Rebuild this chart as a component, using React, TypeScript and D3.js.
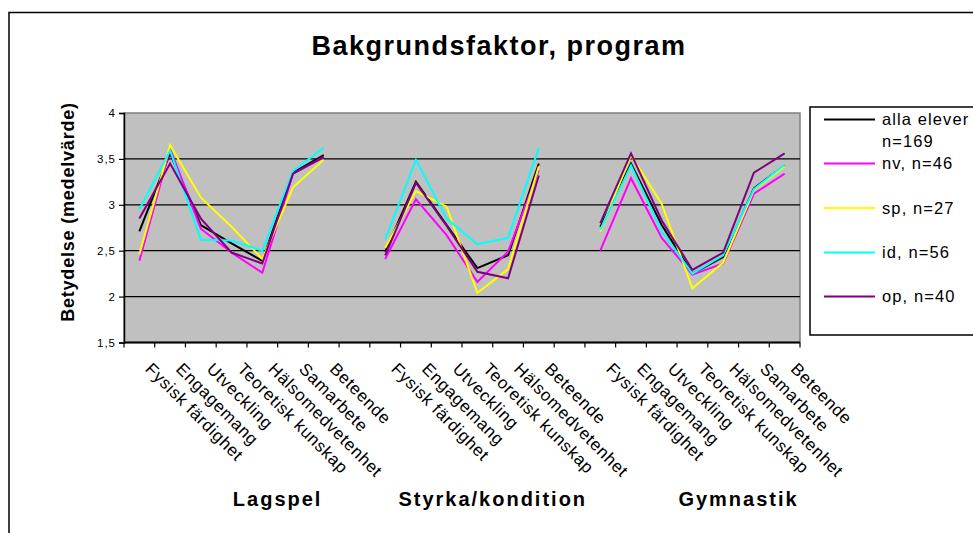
import React, { useEffect, useRef } from "react";
import * as d3 from "d3";

// categories per group (Styrka/kondition has no Samarbete)
const lagspelCats = ["Fysisk färdighet", "Engagemang", "Utveckling", "Teoretisk kunskap", "Hälsomedvetenhet", "Samarbete", "Beteende"];
const styrkaCats = ["Fysisk färdighet", "Engagemang", "Utveckling", "Teoretisk kunskap", "Hälsomedvetenhet", "Beteende"];
const gymnastikCats = ["Fysisk färdighet", "Engagemang", "Utveckling", "Teoretisk kunskap", "Hälsomedvetenhet", "Samarbete", "Beteende"];
const groupNames = ["Lagspel", "Styrka/kondition", "Gymnastik"];

const yTicks = [1.5, 2, 2.5, 3, 3.5, 4];

// values per group: Lagspel, Styrka/kondition, Gymnastik
const alla = [
  [2.71, 3.56, 2.78, 2.58, 2.39, 3.35, 3.54],
  [2.49, 3.25, 2.78, 2.31, 2.45, 3.45],
  [2.76, 3.45, 2.78, 2.25, 2.43, 3.18, 3.43],
];
const nv = [
  [2.39, 3.61, 2.74, 2.48, 2.26, 3.34, 3.52],
  [2.41, 3.06, 2.67, 2.16, 2.49, 3.38],
  [2.5, 3.29, 2.64, 2.24, 2.36, 3.12, 3.34],
];
const sp = [
  [2.46, 3.65, 3.08, 2.76, 2.41, 3.19, 3.49],
  [2.53, 3.15, 2.98, 2.04, 2.3, 3.42],
  [2.71, 3.54, 3.01, 2.09, 2.37, 3.16, 3.42],
];
const id = [
  [2.95, 3.59, 2.62, 2.61, 2.5, 3.37, 3.62],
  [2.62, 3.49, 2.85, 2.57, 2.64, 3.62],
  [2.73, 3.43, 2.71, 2.25, 2.45, 3.17, 3.44],
];
const op = [
  [2.85, 3.45, 2.85, 2.48, 2.36, 3.34, 3.52],
  [2.45, 3.24, 2.77, 2.27, 2.2, 3.32],
  [2.8, 3.56, 2.83, 2.29, 2.48, 3.35, 3.56],
];

const seriesNames = [["alla elever", "n=169"], ["nv, n=46"], ["sp, n=27"], ["id, n=56"], ["op, n=40"]];
const seriesColors = ["#000000", "#ff00ff", "#ffff00", "#00ffff", "#800080"];

function App() {
  const svgRef = useRef<SVGSVGElement>(null);
  const width = 973,
    height = 533;

  useEffect(() => {
    const svg = d3.select(svgRef.current);
    svg.selectAll("*").remove();

    const font = "'Liberation Sans', Arial, sans-serif";
    const plot = { left: 124, right: 800, top: 113, bottom: 342.5 };

    // build category keys with a blank slot between groups
    const groups = [lagspelCats, styrkaCats, gymnastikCats];
    const keys: string[] = [];
    const labels: string[] = [];
    const groupKeys: string[][] = [];
    groups.forEach((cats, gi) => {
      const gk: string[] = [];
      cats.forEach((c, i) => {
        const k = gi + "-" + i;
        keys.push(k);
        labels.push(c);
        gk.push(k);
      });
      groupKeys.push(gk);
      if (gi < groups.length - 1) {
        keys.push("blank" + gi);
        labels.push("");
      }
    });

    const x = d3.scaleBand<string>().domain(keys).range([plot.left, plot.right]).padding(0);
    const y = d3.scaleLinear().domain([1.5, 4]).range([plot.bottom, plot.top]);
    const step = x.step();

    // outer frame
    svg
      .append("path")
      .attr("d", `M9,${height} L9,12.5 L${width},12.5`)
      .attr("fill", "none")
      .attr("stroke", "#000")
      .attr("stroke-width", 1.5);

    // title
    svg
      .append("text")
      .attr("x", 499)
      .attr("y", 55)
      .attr("text-anchor", "middle")
      .attr("font-family", font)
      .attr("font-weight", "bold")
      .attr("font-size", 27)
      .attr("letter-spacing", 1.5)
      .text("Bakgrundsfaktor, program");

    // plot area
    svg
      .append("rect")
      .attr("x", plot.left)
      .attr("y", plot.top)
      .attr("width", plot.right - plot.left)
      .attr("height", plot.bottom - plot.top)
      .attr("fill", "#c0c0c0")
      .attr("stroke", "#808080")
      .attr("stroke-width", 1.5);

    // gridlines
    svg
      .append("g")
      .selectAll("line")
      .data(yTicks.filter((t) => t > 1.5 && t < 4))
      .enter()
      .append("line")
      .attr("x1", plot.left)
      .attr("x2", plot.right)
      .attr("y1", (d) => y(d))
      .attr("y2", (d) => y(d))
      .attr("stroke", "#000")
      .attr("stroke-width", 1.2);

    // y axis
    const yAxis = d3
      .axisLeft(y)
      .tickValues(yTicks)
      .tickSize(5)
      .tickFormat((d) => String(d).replace(".", ","));
    const yg = svg.append("g").attr("transform", `translate(${plot.left},0)`).call(yAxis);
    yg.select(".domain").attr("stroke", "#000").attr("stroke-width", 1.5);
    yg.selectAll(".tick line").attr("stroke", "#000").attr("stroke-width", 1.2);
    yg.selectAll(".tick text")
      .attr("font-family", font)
      .attr("font-size", 11.5)
      .attr("letter-spacing", 1)
      .attr("fill", "#000")
      .attr("x", -8);

    // x axis line and ticks at category boundaries
    const xg = svg.append("g");
    xg.append("line")
      .attr("x1", plot.left)
      .attr("x2", plot.right)
      .attr("y1", plot.bottom)
      .attr("y2", plot.bottom)
      .attr("stroke", "#000")
      .attr("stroke-width", 1.8);
    xg.selectAll("line.tick")
      .data(d3.range(keys.length + 1))
      .enter()
      .append("line")
      .attr("class", "tick")
      .attr("x1", (i) => plot.left + i * step)
      .attr("x2", (i) => plot.left + i * step)
      .attr("y1", plot.bottom)
      .attr("y2", plot.bottom + 5)
      .attr("stroke", "#000")
      .attr("stroke-width", 1.2);

    // rotated category labels
    xg.selectAll("text")
      .data(keys.map((k, i) => ({ k, label: labels[i] })).filter((d) => d.label))
      .enter()
      .append("text")
      .attr("transform", (d) => `translate(${(x(d.k) as number) + step / 2 + 5},370) rotate(45)`)
      .attr("font-family", font)
      .attr("font-size", 17)
      .attr("letter-spacing", 0.7)
      .attr("fill", "#000")
      .text((d) => d.label);

    // group labels
    const groupPos = [5, 12, 20];
    svg
      .append("g")
      .selectAll("text")
      .data(groupNames)
      .enter()
      .append("text")
      .attr("x", (d, i) => plot.left + groupPos[i] * step)
      .attr("y", 506)
      .attr("text-anchor", "middle")
      .attr("font-family", font)
      .attr("font-weight", "bold")
      .attr("font-size", 20)
      .attr("letter-spacing", 2)
      .text((d) => d);

    // y axis title
    svg
      .append("text")
      .attr("transform", "translate(74,212) rotate(-90)")
      .attr("text-anchor", "middle")
      .attr("font-family", font)
      .attr("font-weight", "bold")
      .attr("font-size", 18)
      .attr("letter-spacing", 0.8)
      .text("Betydelse (medelvärde)");

    // lines
    const line = d3
      .line<{ k: string; v: number }>()
      .x((d) => (x(d.k) as number) + step / 2)
      .y((d) => y(d.v));
    const allSeries = [alla, nv, sp, id, op];
    allSeries.forEach((series, si) => {
      series.forEach((vals, gi) => {
        const pts = vals.map((v, i) => ({ k: groupKeys[gi][i], v }));
        svg
          .append("path")
          .attr("d", line(pts))
          .attr("fill", "none")
          .attr("stroke", seriesColors[si])
          .attr("stroke-width", 2)
          .attr("stroke-linejoin", "miter");
      });
    });

    // legend
    const lg = svg.append("g");
    lg.append("rect")
      .attr("x", 810)
      .attr("y", 107)
      .attr("width", 200)
      .attr("height", 228)
      .attr("fill", "#fff")
      .attr("stroke", "#000")
      .attr("stroke-width", 1.5);
    const legendY = [119.5, 163.5, 208, 252.5, 296.5];
    seriesNames.forEach((name, i) => {
      lg.append("line")
        .attr("x1", 824)
        .attr("x2", 875)
        .attr("y1", legendY[i])
        .attr("y2", legendY[i])
        .attr("stroke", seriesColors[i])
        .attr("stroke-width", 2);
      name.forEach((t, j) => {
        lg.append("text")
          .attr("x", 882)
          .attr("y", legendY[i] + 5.5 + j * 22)
          .attr("font-family", font)
          .attr("font-size", 16.5)
          .attr("letter-spacing", 1.1)
          .attr("fill", "#000")
          .text(t);
      });
    });
  }, []);

  return (
    <div>
      <svg
        ref={svgRef}
        width={width}
        height={height}
        style={{ position: "absolute", left: 0, top: 0, background: "#fff" }}
      ></svg>
    </div>
  );
}

export default App;
